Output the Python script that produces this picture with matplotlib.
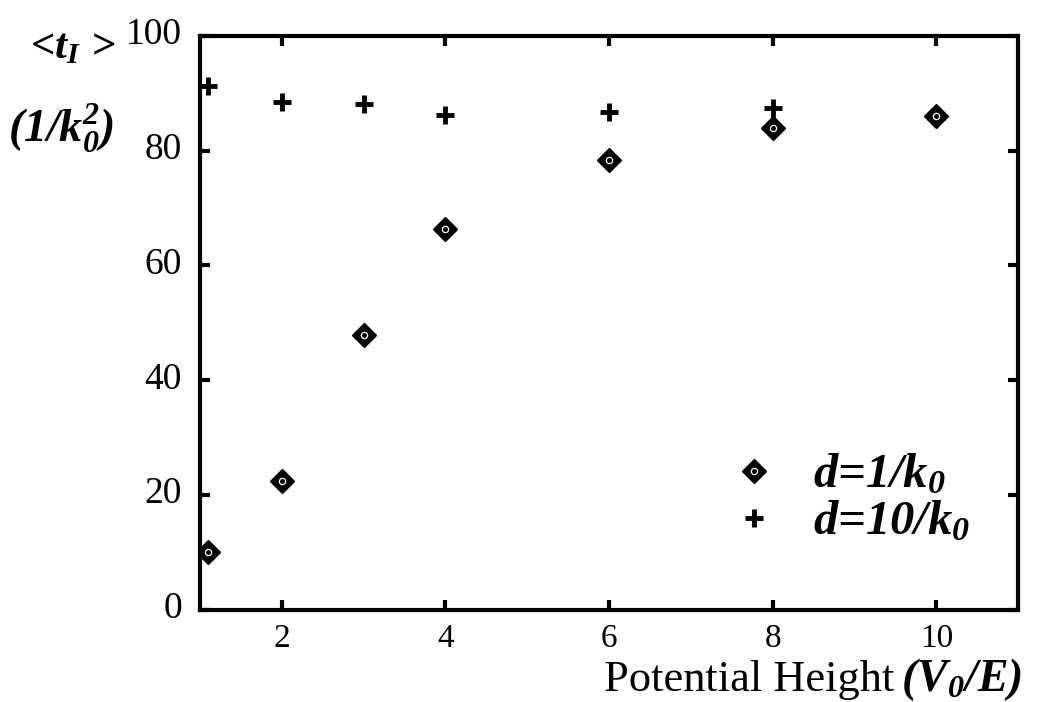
import matplotlib
matplotlib.use('Agg')
import matplotlib.pyplot as plt
import matplotlib.transforms as mtransforms

plt.rcParams['font.family'] = 'Liberation Serif'
plt.rcParams['mathtext.fontset'] = 'custom'
plt.rcParams['mathtext.rm'] = 'Liberation Serif:italic:bold'
plt.rcParams['mathtext.it'] = 'Liberation Serif:italic:bold'
plt.rcParams['mathtext.bf'] = 'Liberation Serif:italic:bold'

# data
x_d1 = [1.1, 2, 3, 4, 6, 8, 10]
t_d1 = [10.1, 22.5, 47.9, 66.4, 78.4, 84.0, 86.1]

x_d10 = [1.1, 2, 3, 4, 6, 8, 10]
t_d10 = [91.3, 88.5, 88.2, 86.2, 86.8, 87.5, 85.6]

xticks = [2, 4, 6, 8, 10]
yticks = [0, 20, 40, 60, 80, 100]

bi = dict(fontweight='bold', fontstyle='italic')

fig = plt.figure(figsize=(10.41, 7.02), dpi=100)
ax = fig.add_axes([0.192, 0.131, 0.786, 0.818])

p10, = ax.plot(x_d10, t_d10, linestyle='none', marker='+', color='black',
               markersize=13, markeredgewidth=3.5)
d1, = ax.plot(x_d1, t_d1, linestyle='none', marker='D', color='black',
              markersize=12.5, markeredgewidth=1)
c1, = ax.plot(x_d1, t_d1, linestyle='none', marker='o', markerfacecolor='none',
              markeredgecolor='white', markersize=4.5, markeredgewidth=0.9)

ax.set_xlim(1, 11)
ax.set_ylim(0, 100)
ax.set_xticks(xticks)
ax.set_yticks(yticks)
ax.tick_params(direction='in', length=7, width=3, top=True, right=True,
               labelsize=27, pad=13)
ax.tick_params(axis='x', labelsize=24, pad=10)
for sp in ax.spines.values():
    sp.set_linewidth(3)

# labels sit a little above their ticks in the original
shift = mtransforms.ScaledTranslation(0, 5 / 100, fig.dpi_scale_trans)
for lab in ax.get_yticklabels():
    lab.set_transform(lab.get_transform() + shift)

leg = ax.legend([(d1, c1), p10], ['d=1/k$_0$', 'd=10/k$_0$'], loc='lower right',
                frameon=False, fontsize=35, handletextpad=0.7,
                bbox_to_anchor=(0.965, 0.08), labelspacing=0.05, borderaxespad=0,
                handlelength=1.0)
for t in leg.get_texts():
    t.set_fontweight('bold')
    t.set_fontstyle('italic')

fig.text(0.029, 1 - 48 / 702, '<t$_I$ >', fontsize=31, ha='left', va='center', **bi)
fig.text(0.008, 1 - 128 / 702, '(1/k$_0^2$)', fontsize=33, ha='left', va='center', **bi)
fig.text(0.859, 1 - 680 / 702, 'Potential Height', fontsize=32, ha='right', va='center')
fig.text(0.982, 1 - 680 / 702, '(V$_0$/E)', fontsize=33, ha='right', va='center', **bi)

fig.savefig('out.png', dpi=100)
